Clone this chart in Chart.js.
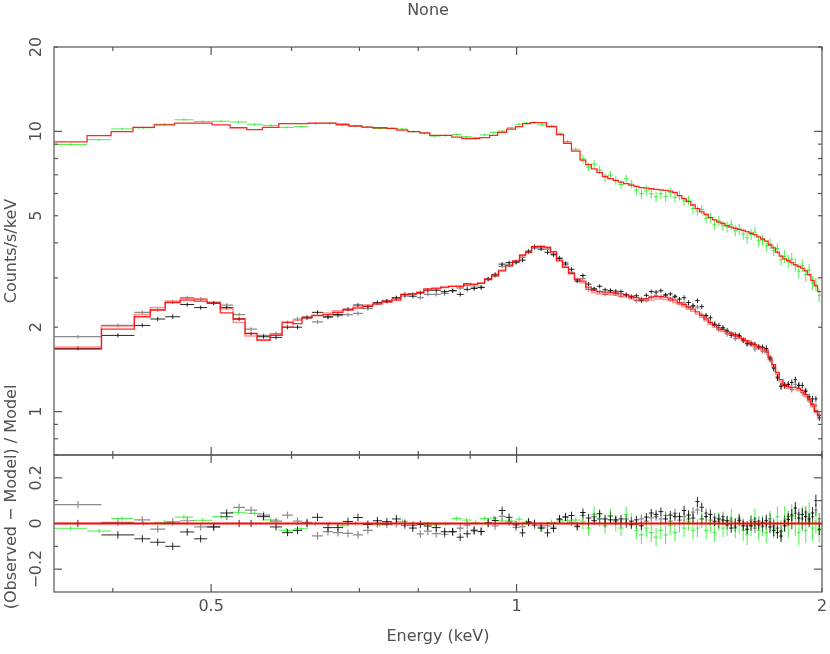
<!DOCTYPE html>
<html>
<head>
<meta charset="utf-8">
<script src="https://cdn.jsdelivr.net/npm/chart.js@4"></script>
<style>
  html, body { margin: 0; padding: 0; background: #fff; }
  #wrap { position: relative; width: 830px; height: 654px; }
  #wrap canvas { position: absolute; left: 0; top: 0; }
</style>
</head>
<body>
<div id="wrap">
  <canvas id="spec" width="830" height="654"></canvas>
  <canvas id="resid" width="830" height="654"></canvas>
</div>
<script>
// bin edges (keV); the fine binning above 1.155 keV is shared by all spectra
const hiEdges = [1.170, 1.185, 1.200, 1.215, 1.230, 1.245, 1.260, 1.275, 1.290, 1.305, 1.320, 1.335, 1.350, 1.365,
  1.380, 1.395, 1.410, 1.425, 1.440, 1.455, 1.470, 1.485, 1.500, 1.515, 1.530, 1.545, 1.560, 1.575, 1.590, 1.605,
  1.620, 1.635, 1.650, 1.665, 1.680, 1.695, 1.710, 1.725, 1.740, 1.755, 1.770, 1.785, 1.800, 1.815, 1.830, 1.845,
  1.860, 1.875, 1.890, 1.905, 1.920, 1.935, 1.950, 1.965, 1.980, 1.995];

const greenEdges = [0.3503, 0.3773, 0.3984, 0.4187, 0.4394, 0.4601, 0.4803, 0.5011, 0.5220, 0.5421, 0.5617, 0.5830,
  0.6035, 0.6230, 0.6445, 0.6637, 0.6836, 0.7040, 0.7217, 0.7450, 0.7621, 0.7813, 0.8028, 0.8212, 0.8400, 0.8632,
  0.8829, 0.9031, 0.9196, 0.9407, 0.9579, 0.9776, 0.9977, 1.0137, 1.0322, 1.0487, 1.0703, 1.0948, 1.1124, 1.1326,
  1.155].concat(hiEdges);

const blackEdges = [0.3503, 0.3898, 0.4200, 0.4355, 0.4505, 0.4661, 0.4811, 0.4955, 0.5104, 0.5256, 0.5400, 0.5549,
  0.5715, 0.5873, 0.6021, 0.6145, 0.6286, 0.6445, 0.6592, 0.6743, 0.6898, 0.7056, 0.7217, 0.7366, 0.7535, 0.7690,
  0.7831, 0.7974, 0.8102, 0.8249, 0.8418, 0.8572, 0.8729, 0.8869, 0.9011, 0.9155, 0.9301, 0.9450, 0.9600, 0.9754,
  0.9910, 1.0068, 1.0206, 1.0346, 1.0487, 1.0655, 1.0800, 1.0948, 1.1098, 1.1250, 1.1404, 1.155].concat(hiEdges);

// green spectrum (counts/s/keV), its model and (data-model)/model
const greenRate = [8.98, 9.34, 10.2, 10.3, 10.6, 11.0, 10.85, 10.87, 10.8, 10.6, 10.5, 10.33, 10.4, 10.67, 10.7, 10.5,
  10.45, 10.35, 10.24, 10.24, 10.19, 9.98, 9.84, 9.62, 9.66, 9.74, 9.57, 9.46, 9.71, 9.91, 10.02, 10.3, 10.6, 10.7,
  10.75, 10.55, 10.45, 9.84, 9.2, 8.63,
  7.98, 7.46, 7.64, 7.28, 6.84, 6.98, 6.68, 6.46, 6.77, 6.49, 6.17, 5.99, 6.14, 5.99, 5.84, 5.99, 5.85, 6.06, 5.81,
  5.90, 5.64, 5.67, 5.30, 5.19, 5.26, 4.90, 4.92, 4.64, 4.79, 4.60, 4.56, 4.64, 4.42, 4.47, 4.30, 4.17, 4.29, 4.37,
  4.07, 4.09, 3.90, 3.97, 3.76, 3.82, 3.48, 3.58, 3.43, 3.50, 3.34, 3.17, 3.32, 3.08, 3.20, 2.88, 2.84, 2.60];
const greenModel = [9.17, 9.66, 9.98, 10.33, 10.55, 10.7, 10.7, 10.55, 10.3, 10.15, 10.33, 10.65, 10.65, 10.7, 10.7,
  10.6, 10.45, 10.35, 10.3, 10.24, 10.1, 9.98, 9.87, 9.68, 9.68, 9.53, 9.43, 9.43, 9.5, 9.68, 9.91, 10.19, 10.4,
  10.65, 10.75, 10.75, 10.4, 9.74, 9.07, 8.5,
  7.90, 7.61, 7.35, 7.14, 6.91, 6.78, 6.68, 6.59, 6.51, 6.43, 6.36, 6.30, 6.27, 6.24, 6.21, 6.18, 6.16, 6.12, 6.05,
  5.90, 5.75, 5.61, 5.46, 5.30, 5.16, 5.05, 4.92, 4.83, 4.74, 4.69, 4.61, 4.55, 4.51, 4.47, 4.43, 4.39, 4.33, 4.28,
  4.20, 4.13, 4.06, 3.93, 3.84, 3.71, 3.59, 3.51, 3.46, 3.40, 3.34, 3.30, 3.25, 3.18, 3.08, 2.94, 2.81, 2.68];
const greenRatio = [-0.021, -0.033, 0.022, 0.0, 0.005, 0.028, 0.014, 0.03, 0.049, 0.044, 0.016, -0.03, -0.023, 0.0,
  0.0, -0.01, 0.0, 0.0, -0.006, 0.0, 0.009, 0.0, -0.003, -0.006, -0.002, 0.022, 0.015, 0.003, 0.022, 0.024, 0.011,
  0.011, 0.019, 0.005, 0.0, -0.019, 0.005, 0.01, 0.014, 0.015,
  0.01, -0.02, 0.04, 0.02, -0.01, 0.03, 0.0, -0.02, 0.04, 0.01, -0.03, -0.05, -0.02, -0.04, -0.06, -0.03, -0.05,
  -0.01, -0.04, 0.0, -0.02, 0.01, -0.03, -0.02, 0.02, -0.03, 0.0, -0.04, 0.01, -0.02, -0.01, 0.02, -0.02, 0.0,
  -0.03, -0.05, -0.01, 0.02, -0.03, -0.01, -0.04, 0.01, -0.02, 0.03, -0.03, 0.02, -0.01, 0.03, 0.0, -0.04, 0.02,
  -0.03, 0.04, -0.02, 0.01, -0.03];
const greenErr = [0.01, 0.01, 0.01, 0.01, 0.01, 0.01, 0.01, 0.01, 0.01, 0.01, 0.01, 0.01, 0.01, 0.01, 0.01, 0.01,
  0.01, 0.01, 0.01, 0.01, 0.01, 0.01, 0.01, 0.01, 0.01, 0.01, 0.01, 0.01, 0.01, 0.01, 0.01, 0.01, 0.012, 0.012,
  0.012, 0.012, 0.012, 0.012, 0.012, 0.012,
  0.035, 0.035, 0.035, 0.035, 0.035, 0.035, 0.035, 0.035, 0.035, 0.035, 0.04, 0.04, 0.04, 0.04, 0.04, 0.04, 0.04,
  0.04, 0.04, 0.04, 0.04, 0.04, 0.04, 0.04, 0.04, 0.04, 0.04, 0.04, 0.04, 0.04, 0.045, 0.045, 0.045, 0.045, 0.045,
  0.045, 0.045, 0.045, 0.045, 0.045, 0.045, 0.045, 0.045, 0.045, 0.045, 0.055, 0.055, 0.055, 0.055, 0.055, 0.055,
  0.055, 0.055, 0.055, 0.055, 0.055];

// the two black spectra (A lighter, B darker)
const blackRateA = [1.85, 2.03, 2.26, 2.31, 2.46, 2.55, 2.52, 2.44, 2.40, 2.22, 1.97, 1.87, 1.90, 2.08, 2.14, 2.18,
  2.09, 2.17, 2.20, 2.22, 2.24, 2.33, 2.44, 2.48, 2.53, 2.58, 2.62, 2.55, 2.62, 2.62, 2.64, 2.70, 2.76, 2.82, 2.78,
  2.78, 2.97, 3.05, 3.30, 3.34, 3.40, 3.55, 3.75, 3.83, 3.86, 3.80, 3.62, 3.54, 3.40, 3.14, 2.95,
  2.98, 2.73, 2.74, 2.68, 2.62, 2.70, 2.63, 2.58, 2.61, 2.56, 2.49, 2.53, 2.50, 2.56, 2.60, 2.57, 2.60, 2.51, 2.56,
  2.45, 2.44, 2.37, 2.39, 2.36, 2.21, 2.20, 2.08, 2.05, 1.96, 1.99, 1.89, 1.90, 1.82, 1.86, 1.79, 1.74, 1.76, 1.67,
  1.70, 1.64, 1.63, 1.56, 1.43, 1.33, 1.24, 1.24, 1.25, 1.20, 1.25, 1.24, 1.17, 1.19, 1.10, 1.07, 1.05, 0.97];
const blackModelA = [1.70, 2.02, 2.22, 2.35, 2.48, 2.53, 2.52, 2.46, 2.33, 2.08, 1.86, 1.80, 1.88, 2.01, 2.12, 2.17,
  2.21, 2.25, 2.29, 2.32, 2.36, 2.40, 2.44, 2.49, 2.53, 2.60, 2.64, 2.67, 2.71, 2.74, 2.77, 2.80, 2.82, 2.84, 2.86,
  2.88, 2.97, 3.08, 3.20, 3.32, 3.46, 3.60, 3.72, 3.86, 3.90, 3.84, 3.68, 3.48, 3.30, 3.12, 2.98,
  2.88, 2.73, 2.66, 2.63, 2.62, 2.61, 2.60, 2.58, 2.56, 2.53, 2.50, 2.48, 2.48, 2.50, 2.52, 2.52, 2.51, 2.49, 2.45,
  2.41, 2.37, 2.32, 2.28, 2.23, 2.17, 2.11, 2.05, 2.00, 1.96, 1.93, 1.90, 1.88, 1.85, 1.82, 1.79, 1.76, 1.73, 1.70,
  1.68, 1.66, 1.63, 1.53, 1.44, 1.36, 1.28, 1.23, 1.21, 1.20, 1.20, 1.19, 1.17, 1.13, 1.09, 1.04, 0.99, 0.95];
const blackRatioA = [0.083, 0.005, 0.016, -0.025, 0.007, 0.012, -0.015, -0.015, 0.03, 0.071, 0.059, 0.037, 0.01,
  0.037, 0.01, 0.005, -0.054, -0.036, -0.04, -0.043, -0.05, -0.03, 0.0, -0.004, 0.0, -0.008, -0.008, -0.045, -0.033,
  -0.044, -0.047, -0.036, -0.02, -0.007, -0.028, -0.035, 0.0, -0.01, 0.031, 0.006, -0.017, -0.014, 0.008, -0.008,
  -0.01, -0.01, -0.016, 0.017, 0.03, 0.006, -0.01,
  0.035, 0.0, 0.03, 0.02, 0.0, 0.035, 0.01, 0.0, 0.02, 0.01, -0.005, 0.02, 0.01, 0.025, 0.03, 0.02, 0.035, 0.01,
  0.045, 0.015, 0.03, 0.02, 0.05, 0.06, 0.02, 0.045, 0.015, 0.025, 0.0, 0.03, -0.005, 0.01, -0.015, 0.02, 0.0,
  -0.01, 0.015, -0.02, 0.01, -0.015, 0.0, 0.02, -0.01, -0.02, -0.035, 0.01, 0.03, 0.0, 0.045, 0.04, 0.0, 0.05,
  0.01, 0.03, 0.06, 0.02];

const blackRateB = [1.68, 1.87, 2.03, 2.14, 2.18, 2.41, 2.35, 2.44, 2.35, 2.14, 1.90, 1.85, 1.84, 2.00, 2.00, 2.16,
  2.26, 2.18, 2.22, 2.32, 2.40, 2.37, 2.45, 2.48, 2.55, 2.62, 2.58, 2.65, 2.71, 2.71, 2.68, 2.70, 2.62, 2.73, 2.75,
  2.77, 2.97, 3.09, 3.36, 3.40, 3.42, 3.47, 3.72, 3.88, 3.80, 3.70, 3.64, 3.52, 3.36, 3.22, 2.92,
  3.06, 2.85, 2.74, 2.80, 2.72, 2.70, 2.69, 2.68, 2.61, 2.57, 2.59, 2.49, 2.60, 2.68, 2.67, 2.70, 2.61, 2.63, 2.58,
  2.52, 2.55, 2.45, 2.38, 2.49, 2.37, 2.20, 2.16, 2.05, 2.03, 1.99, 1.95, 1.87, 1.88, 1.87, 1.80, 1.75, 1.74, 1.74,
  1.70, 1.70, 1.68, 1.54, 1.43, 1.32, 1.23, 1.24, 1.25, 1.27, 1.30, 1.24, 1.24, 1.18, 1.13, 1.11, 1.11, 0.95];
const blackModelB = [1.67, 1.97, 2.18, 2.30, 2.45, 2.50, 2.48, 2.44, 2.25, 2.14, 1.90, 1.80, 1.87, 2.08, 2.06, 2.16,
  2.20, 2.22, 2.26, 2.30, 2.34, 2.38, 2.42, 2.46, 2.50, 2.62, 2.63, 2.66, 2.74, 2.76, 2.78, 2.80, 2.79, 2.86, 2.84,
  2.87, 2.96, 3.05, 3.18, 3.31, 3.44, 3.62, 3.70, 3.88, 3.88, 3.86, 3.72, 3.45, 3.27, 3.11, 2.96,
  2.92, 2.78, 2.71, 2.68, 2.67, 2.66, 2.65, 2.63, 2.61, 2.58, 2.55, 2.52, 2.53, 2.56, 2.57, 2.57, 2.56, 2.54, 2.50,
  2.45, 2.41, 2.36, 2.32, 2.27, 2.21, 2.14, 2.08, 2.03, 1.99, 1.96, 1.93, 1.91, 1.88, 1.85, 1.82, 1.79, 1.76, 1.73,
  1.71, 1.69, 1.66, 1.56, 1.47, 1.38, 1.30, 1.25, 1.23, 1.22, 1.22, 1.21, 1.19, 1.15, 1.11, 1.06, 1.01, 0.97];
const blackRatioB = [0.0, -0.05, -0.067, -0.082, -0.10, -0.037, -0.067, -0.015, 0.046, 0.0, 0.0, 0.03, -0.015,
  -0.04, -0.03, 0.0, 0.027, -0.018, -0.018, 0.009, 0.026, -0.004, 0.012, 0.008, 0.02, 0.0, -0.02, -0.004, -0.011,
  -0.018, -0.036, -0.036, -0.06, -0.045, -0.032, -0.035, 0.003, 0.013, 0.057, 0.027, -0.006, -0.041, 0.005, 0.0,
  -0.02, -0.041, -0.022, 0.02, 0.028, 0.035, -0.014,
  0.048, 0.024, 0.012, 0.043, 0.02, 0.016, 0.016, 0.02, 0.0, -0.005, 0.016, -0.01, 0.028, 0.046, 0.04, 0.052, 0.02,
  0.037, 0.03, 0.03, 0.057, 0.037, 0.024, 0.096, 0.071, 0.03, 0.04, 0.01, 0.02, 0.015, 0.012, -0.02, 0.0, 0.012,
  -0.01, -0.025, -0.01, 0.007, -0.006, 0.005, 0.012, -0.015, -0.03, -0.04, -0.055, -0.01, 0.018, 0.037, 0.068,
  0.024, 0.04, 0.03, 0.02, 0.046, 0.10, -0.025];
const blackErr = [0.016, 0.016, 0.016, 0.016, 0.016, 0.016, 0.016, 0.016, 0.016, 0.016, 0.016, 0.016, 0.016, 0.016,
  0.017, 0.017, 0.017, 0.017, 0.017, 0.017, 0.017, 0.017, 0.017, 0.017, 0.017, 0.017, 0.017, 0.017, 0.017, 0.017,
  0.017, 0.017, 0.017, 0.017, 0.017, 0.017, 0.017, 0.017, 0.017, 0.017, 0.017, 0.017, 0.017, 0.017, 0.017, 0.017,
  0.017, 0.017, 0.017, 0.017, 0.017,
  0.018, 0.018, 0.018, 0.018, 0.018, 0.018, 0.018, 0.018, 0.018, 0.018, 0.018, 0.018, 0.018, 0.018, 0.018, 0.018,
  0.018, 0.018, 0.018, 0.018, 0.021, 0.021, 0.021, 0.021, 0.021, 0.021, 0.021, 0.021, 0.021, 0.021, 0.021, 0.021,
  0.021, 0.021, 0.021, 0.021, 0.021, 0.021, 0.021, 0.021, 0.026, 0.026, 0.026, 0.026, 0.026, 0.026, 0.026, 0.026,
  0.026, 0.026, 0.026, 0.026, 0.026, 0.026, 0.026, 0.026];

// axes
const energyTicks = [0.4, 0.5, 0.6, 0.7, 0.8, 0.9, 1, 2];
const energyLong = [0.5, 1];
const energyLabelAt = [0.5, 1, 2];
const energyLabels = ['0.5', '1', '2'];
const countTicks = [0.7, 0.8, 0.9, 1, 2, 3, 4, 5, 6, 7, 8, 9, 10, 20];
const countLong = [1, 10];
const countLabelAt = [1, 2, 5, 10, 20];
const countLabels = ['1', '2', '5', '10', '20'];
const ratioTicks = [-0.2, -0.1, 0, 0.1, 0.2];
const ratioLong = [-0.2, 0, 0.2];
const ratioLabelAt = [-0.2, 0, 0.2];
const ratioLabels = ['\u22120.2', '0', '0.2'];

const INK = '#555555';
const TEXT = '#505050';
const FONT = '16px "DejaVu Sans", sans-serif';
const RED = 'rgba(255,0,0,0.85)';
const RED_SOFT = 'rgba(255,40,40,0.5)';
const GREEN = 'rgba(30,235,30,0.8)';
const BLACK = 'rgba(0,0,0,0.85)';
const GREY = 'rgba(0,0,0,0.45)';

function stepPoints(edges, vals) {
  const pts = [];
  vals.forEach((v, i) => pts.push({ x: edges[i], y: v }, { x: edges[i + 1], y: v }));
  return pts;
}

function crossPoints(edges, vals, errs) {
  const pts = [];
  vals.forEach((v, i) => {
    const lo = edges[i], hi = edges[i + 1], mid = Math.sqrt(lo * hi);
    pts.push({ x: lo, y: v }, { x: hi, y: v }, { x: mid, y: null },
      { x: mid, y: v - errs[i] }, { x: mid, y: v + errs[i] }, { x: mid, y: null });
  });
  return pts;
}

function lineSet(data, color, width) {
  return { data, borderColor: color, borderWidth: width, pointRadius: 0, fill: false, spanGaps: false, tension: 0 };
}

function line(ctx, x1, y1, x2, y2) {
  ctx.beginPath();
  ctx.moveTo(x1, y1);
  ctx.lineTo(x2, y2);
  ctx.stroke();
}

function rotatedText(ctx, text, x, y) {
  ctx.save();
  ctx.translate(x, y);
  ctx.rotate(-Math.PI / 2);
  ctx.fillText(text, 0, 0);
  ctx.restore();
}

// frame, inward ticks and labels for one panel
function axesPlugin(cfg) {
  return {
    id: 'pgAxes',
    afterDatasetsDraw(chart) {
      const { ctx, chartArea: a, scales } = chart;
      ctx.save();
      ctx.strokeStyle = INK;
      ctx.lineWidth = 1.2;
      ctx.strokeRect(a.left, a.top, a.right - a.left, a.bottom - a.top);

      energyTicks.forEach(v => {
        const px = scales.x.getPixelForValue(v);
        const len = energyLong.includes(v) ? 8 : 4;
        line(ctx, px, a.top, px, a.top + len);
        line(ctx, px, a.bottom, px, a.bottom - len);
      });
      cfg.yTicks.forEach(v => {
        const py = scales.y.getPixelForValue(v);
        const len = cfg.yLong.includes(v) ? 8 : 4;
        line(ctx, a.left, py, a.left + len, py);
        line(ctx, a.right, py, a.right - len, py);
      });

      ctx.fillStyle = TEXT;
      ctx.font = FONT;
      ctx.textAlign = 'center';
      ctx.textBaseline = 'middle';
      cfg.yLabelAt.forEach((v, i) => rotatedText(ctx, cfg.yLabels[i], 37, scales.y.getPixelForValue(v)));
      rotatedText(ctx, cfg.yTitle, 12, cfg.yTitleY);

      if (cfg.xLabels) {
        energyLabelAt.forEach((v, i) => ctx.fillText(energyLabels[i], scales.x.getPixelForValue(v), 607));
        ctx.fillText('Energy (keV)', (a.left + a.right) / 2, 637);
      }
      if (cfg.title) ctx.fillText(cfg.title, 428, 11);
      ctx.restore();
    }
  };
}

function baseOptions(yScale, padding) {
  return {
    responsive: false,
    animation: false,
    devicePixelRatio: 1,
    events: [],
    layout: { padding },
    plugins: { legend: { display: false }, tooltip: { enabled: false } },
    scales: {
      x: { type: 'logarithmic', min: 0.35, max: 2.0, display: false },
      y: yScale
    }
  };
}

const greenTopErr = greenModel.map((m, i) => m * greenErr[i]);
const blackTopErrA = blackModelA.map((m, i) => m * blackErr[i]);
const blackTopErrB = blackModelB.map((m, i) => m * blackErr[i]);

new Chart(document.getElementById('spec'), {
  type: 'line',
  data: {
    datasets: [
      lineSet(stepPoints(greenEdges, greenModel), RED, 1.3),
      lineSet(stepPoints(blackEdges, blackModelB), RED, 1.3),
      lineSet(stepPoints(blackEdges, blackModelA), RED_SOFT, 1.5),
      lineSet(crossPoints(greenEdges, greenRate, greenTopErr), GREEN, 1),
      lineSet(crossPoints(blackEdges, blackRateB, blackTopErrB), BLACK, 1),
      lineSet(crossPoints(blackEdges, blackRateA, blackTopErrA), GREY, 1.2)
    ]
  },
  options: baseOptions({ type: 'logarithmic', min: 0.7, max: 20, display: false },
    { left: 54, right: 8, top: 47, bottom: 199 }),
  plugins: [axesPlugin({
    yTicks: countTicks, yLong: countLong, yLabelAt: countLabelAt, yLabels: countLabels,
    yTitle: 'Counts/s/keV', yTitleY: 251, title: 'None'
  })]
});

new Chart(document.getElementById('resid'), {
  type: 'line',
  data: {
    datasets: [
      lineSet([{ x: 0.35, y: 0 }, { x: 2.0, y: 0 }], 'rgba(255,0,0,1)', 2),
      lineSet(crossPoints(blackEdges, blackRatioB, blackErr), BLACK, 1),
      lineSet(crossPoints(blackEdges, blackRatioA, blackErr), GREY, 1.2),
      lineSet(crossPoints(greenEdges, greenRatio, greenErr), GREEN, 1)
    ]
  },
  options: baseOptions({ type: 'linear', min: -0.3, max: 0.3, display: false },
    { left: 54, right: 8, top: 455, bottom: 62 }),
  plugins: [axesPlugin({
    yTicks: ratioTicks, yLong: ratioLong, yLabelAt: ratioLabelAt, yLabels: ratioLabels,
    yTitle: '(Observed \u2212 Model) / Model', yTitleY: 497, xLabels: true
  })]
});
</script>
</body>
</html>
